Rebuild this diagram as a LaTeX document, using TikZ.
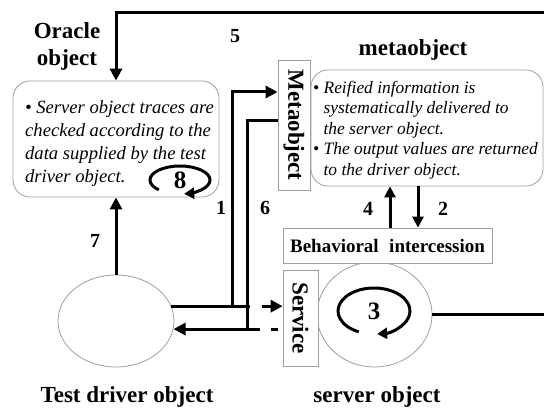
\documentclass[tikz,border=0pt]{standalone}
\usepackage{fontspec}
\setmainfont{Liberation Serif}
\usetikzlibrary{arrows.meta,calc,shapes.geometric}

\tikzset{
  conn/.style={line width=3pt},
  arr/.style={conn,-{Triangle[length=12pt,width=12pt]}},
  loop/.style={conn,-{Triangle[length=10pt,width=11pt]}},
  box/.style={draw=gray!75,line width=0.8pt,fill=white,inner sep=0pt},
  rbox/.style={box,rounded corners=17pt},
  blob/.style={draw=gray!75,line width=0.8pt,ellipse,inner sep=0pt},
  lbl/.style={font=\fontsize{23}{27}\selectfont\bfseries,align=center},
  num/.style={font=\fontsize{20}{22}\selectfont\bfseries},
  bignum/.style={font=\fontsize{25}{27}\selectfont\bfseries},
  boxtext/.style={font=\fontsize{23}{25}\selectfont\bfseries},
  note/.style={align=left,inner sep=0pt,anchor=north west},
}

\begin{document}
\begin{tikzpicture}[x=1pt,y=-1pt]
\clip (0,0) rectangle (544,412);
\fill[white] (0,0) rectangle (544,412);

% ---- oracle object ----
\node[lbl] (oraclelbl) at (67,46) {Oracle\\object};
\node[rbox,minimum width=206pt,minimum height=116pt] (oracle) at (116,139) {};
\node[note,font=\fontsize{18.6}{23}\selectfont\itshape] (oracletext) at (25,100)
  {\textbullet\ Server object traces are\\
   checked according to the\\
   data supplied by the test\\
   driver object.};
\node[bignum] (n8) at (180,180) {8};
\draw[loop] ([shift={(135:30 and 14)}]n8.center)
  arc[start angle=135,end angle=442,x radius=30,y radius=14];

% ---- metaobject ----
\node[lbl] (metalbl) at (413,50) {metaobject};
\node[rbox,minimum width=232pt,minimum height=116pt] (metabox) at (427,128) {};
\node[note,font=\fontsize{17.4}{20.5}\selectfont\itshape] (metatext) at (313,81)
  {\textbullet\ Reified information is\\
   \hphantom{\textbullet\ }systematically delivered to\\
   \hphantom{\textbullet\ }the server object.\\
   \textbullet\ The output values are returned\\
   \hphantom{\textbullet\ }to the driver object.};
% vertical label box; after rotate=-90 its south anchor faces left
\node[box,rotate=-90,minimum width=130pt,minimum height=32pt,boxtext] (metaobj) at (294,125) {Metaobject};

% ---- server object ----
\node[blob,minimum width=115pt,minimum height=105pt] (server) at (374.5,314.5) {};
\node[box,minimum width=209pt,minimum height=35pt,font=\fontsize{19}{21}\selectfont\bfseries] (bi) at (387.5,245.5)
  {Behavioral\hspace{0.55em}intercession};
\node[box,rotate=-90,minimum width=96pt,minimum height=35pt,boxtext] (service) at (300.5,318) {Service};
\node[bignum] (n3) at (374,311) {3};
\draw[loop] ([shift={(115:36 and 23)}]n3.center)
  arc[start angle=115,end angle=445,x radius=36,y radius=23];
\node[lbl] (serverlbl) at (377,397) {server object};

% ---- test driver object ----
\node[blob,minimum width=116pt,minimum height=92pt] (driver) at (116,321) {};
\node[lbl] (driverlbl) at (127,397) {Test driver object};

% ---- routing points ----
\coordinate (k1) at (232,92);
\coordinate (k6) at (247,120);
\coordinate (k5) at (570,13);
\coordinate (xa) at (250,0);
\coordinate (xb) at (262,0);
\coordinate (xc) at (260,0);
\coordinate (xd) at (271,0);
\coordinate (xe) at (278,0);
\coordinate (x4) at (390,0);
\coordinate (x2) at (418,0);

% 1: driver -> Metaobject
\draw[arr] (driver.15) -| (k1) -- (k1 -| metaobj.south);
\draw[conn] (driver.15) -- (driver.15 -| xa);
\draw[arr] (driver.15 -| xb) -- (driver.15 -| service.south);
% 6: Metaobject -> driver
\draw[arr] (k6 -| metaobj.south) -- (k6) |- (driver.-8);
\draw[conn] (driver.-8 -| k6) -- (driver.-8 -| xc);
\draw[conn] (driver.-8 -| xd) -- (driver.-8 -| xe);
% 7: driver -> oracle
\draw[arr] (driver.north) -- (oracle.south);
% 5: server -> oracle
\draw[arr] (server.east) -| (k5) -- (k5 -| oracle.north) -- (oracle.north);
% 2 and 4: between metaobject and behavioral intercession
\draw[arr,-{Triangle[length=11pt,width=11pt]}] (bi.north -| x4) -- (metabox.south -| x4);
\draw[arr,-{Triangle[length=11pt,width=11pt]}] (metabox.south -| x2) -- (bi.north -| x2);

% step numbers
\node[num] (n5) at (235,36) {5};
\node[num] (n1) at (221,208) {1};
\node[num] (n6) at (265,208) {6};
\node[num] (n7) at (95,241) {7};
\node[num] (n4) at (368,209) {4};
\node[num] (n2) at (443,209) {2};
\end{tikzpicture}
\end{document}
